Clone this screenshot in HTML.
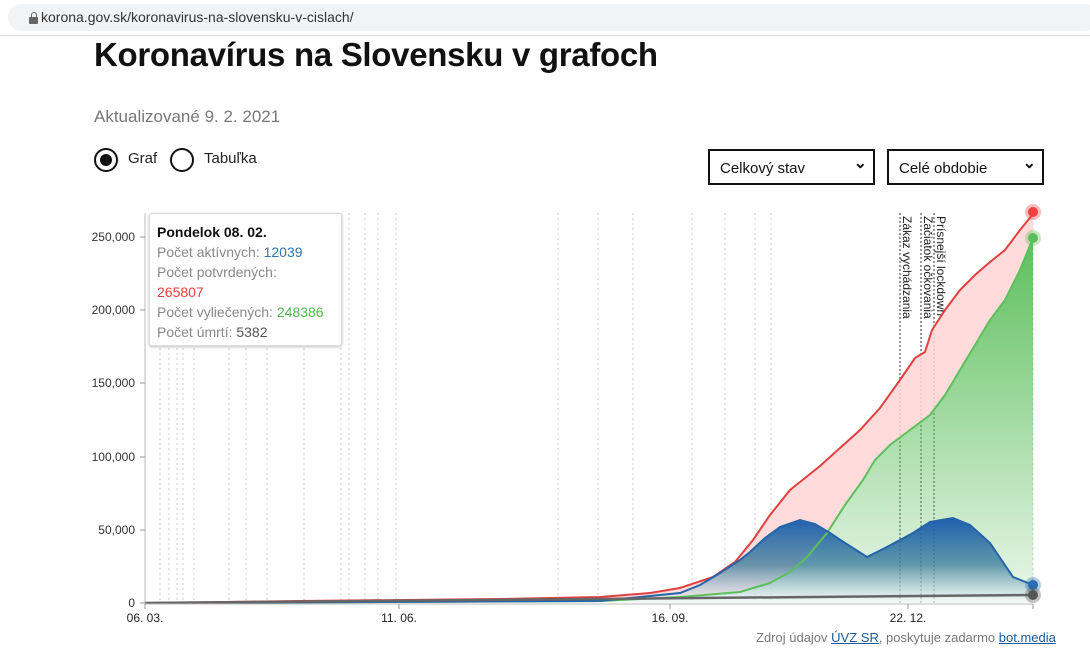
<!DOCTYPE html>
<html><head><meta charset="utf-8"><style>
body{margin:0;width:1090px;height:654px;background:#fff;font-family:"Liberation Sans",sans-serif;overflow:hidden;position:relative}
.bar{position:absolute;left:0;top:0;width:1090px;height:35px;background:#fff;border-bottom:1px solid #ddd}
.url{position:absolute;left:8px;top:4px;width:1090px;height:27px;background:#f1f3f4;border-radius:14px}
.url span{position:absolute;left:33px;top:5px;font-size:14px;color:#333}
.lock{position:absolute;left:21px;top:13px;width:9px;height:7px;background:#666;border-radius:1px}
.lock:before{content:"";position:absolute;left:1.5px;top:-5px;width:4px;height:5px;border:1.5px solid #666;border-bottom:none;border-radius:3px 3px 0 0}
h1{position:absolute;left:94px;top:36px;margin:0;font-size:33px;font-weight:bold;color:#111;letter-spacing:-0.3px}
.upd{position:absolute;left:94px;top:107px;font-size:17px;color:#777}
.radio{position:absolute;top:148px;width:20px;height:20px;border:2px solid #111;border-radius:50%}
.lbl{position:absolute;top:150px;font-size:15px;color:#222}
.sel{position:absolute;top:149px;height:36px;border:2px solid #111;font-size:15px;color:#111;box-sizing:border-box;padding:9px 10px}
.sel:after{content:"⌄";position:absolute;right:6px;top:2px;font-size:16px;font-weight:bold}
.tip{position:absolute;left:149px;top:213px;width:193px;height:133px;background:#fff;border:1px solid #ddd;border-radius:3px;box-shadow:0 1px 3px rgba(0,0,0,.25);font-size:14px;line-height:20px;color:#888;padding:8px 7px;box-sizing:border-box}
.src{position:absolute;left:756px;top:630px;font-size:13px;color:#777}
.src u{color:#1a5a9a}
</style></head><body>
<div class="bar"><div class="url"><div class="lock"></div><span>korona.gov.sk/koronavirus-na-slovensku-v-cislach/</span></div></div>
<h1>Koronavírus na Slovensku v grafoch</h1>
<div class="upd">Aktualizované 9. 2. 2021</div>
<div class="radio" style="left:94px"><div style="position:absolute;left:4px;top:4px;width:12px;height:12px;border-radius:50%;background:#111"></div></div>
<div class="lbl" style="left:128px">Graf</div>
<div class="radio" style="left:170px"></div>
<div class="lbl" style="left:204px">Tabuľka</div>
<div class="sel" style="left:708px;width:167px">Celkový stav</div>
<div class="sel" style="left:887px;width:157px">Celé obdobie</div>
<svg width="1090" height="654" style="position:absolute;left:0;top:0">
<defs>
<linearGradient id="gb" x1="0" y1="0" x2="0" y2="1"><stop offset="0" stop-color="#1f5fb0"/><stop offset="0.55" stop-color="#357a9a" stop-opacity=".75"/><stop offset="1" stop-color="#fff" stop-opacity=".6"/></linearGradient>
<linearGradient id="gg" x1="0" y1="0" x2="0" y2="1"><stop offset="0" stop-color="#5cbf5c"/><stop offset="1" stop-color="#5cbf5c" stop-opacity=".12"/></linearGradient>
</defs>
<g stroke="#ccc" stroke-dasharray="2,3" stroke-width="1">
<path d="M160 213V603M169 213V603M177 213V603M183 213V603M194 213V603M229 213V603M246 213V603M267 213V603M304 213V603M341 213V603M349 213V603M365 213V603M378 213V603M396 213V603M558 213V603M598 213V603M633 213V603M692 213V603M725 213V603M755 213V603M771 213V603M1033 213V603"/>
</g>
<g stroke="#555" stroke-dasharray="2,2" stroke-width="1.2"><path d="M900 213V603M921 213V603M934 213V603"/></g>
<g font-size="12" fill="#222" font-family="Liberation Sans">
<text transform="translate(903,216) rotate(90)">Zákaz vychádzania</text>
<text transform="translate(924,216) rotate(90)">Začiatok očkovania</text>
<text transform="translate(937,216) rotate(90)">Prísnejší lockdown</text>
</g>
<path d="M145 603L300 601L500 599L600 597L650 593L680 588L713 577L735 562L753 540L770 515L790 490L800 482L820 466L840 448L860 430L880 408L900 380L915 358L925 352L932 330L945 310L960 290L975 275L990 262L1005 250L1020 230L1033 214L1033 238L1020 270L1005 300L990 320L975 345L960 370L945 395L930 415L910 430L890 445L875 460L863 480L845 505L827 533L807 557L790 572L770 583L740 592L700 597L600 601L145 603Z" fill="#ffd5d5" opacity=".85"/>
<path d="M145 603L600 601L680 597L740 592L770 583L790 572L807 557L827 533L845 505L863 480L875 460L890 445L910 430L930 415L945 395L960 370L975 345L990 320L1005 300L1020 270L1033 238V603Z" fill="url(#gg)"/>
<path d="M145 603L600 601L680 593L700 585L720 573L740 560L750 552L765 538L780 527L800 520L815 524L830 533L845 543L867 557L885 548L900 540L913 533L930 522L953 518L970 525L990 543L1013 577L1033 585V603Z" fill="url(#gb)"/>
<path d="M145 603L300 601L500 599L600 597L650 593L680 588L713 577L735 562L753 540L770 515L790 490L800 482L820 466L840 448L860 430L880 408L900 380L915 358L925 352L932 330L945 310L960 290L975 275L990 262L1005 250L1020 230L1033 214" fill="none" stroke="#e04040" stroke-width="2"/>
<path d="M145 603L600 601L680 597L740 592L770 583L790 572L807 557L827 533L845 505L863 480L875 460L890 445L910 430L930 415L945 395L960 370L975 345L990 320L1005 300L1020 270L1033 238" fill="none" stroke="#5cbf5c" stroke-width="2"/>
<path d="M145 603L600 601L680 593L700 585L720 573L740 560L750 552L765 538L780 527L800 520L815 524L830 533L845 543L867 557L885 548L900 540L913 533L930 522L953 518L970 525L990 543L1013 577L1033 585" fill="none" stroke="#2464a8" stroke-width="2"/>
<path d="M145 603L1033 595" stroke="#666" stroke-width="2.5"/>
<circle cx="1033" cy="212" r="8" fill="#f04040" opacity=".35"/><circle cx="1033" cy="212" r="5" fill="#f04040"/>
<circle cx="1033" cy="238" r="8" fill="#5cbf5c" opacity=".35"/><circle cx="1033" cy="238" r="5" fill="#5cbf5c"/>
<circle cx="1033" cy="585" r="8" fill="#2a6db0" opacity=".35"/><circle cx="1033" cy="585" r="5" fill="#2a6db0"/>
<circle cx="1033" cy="595" r="8" fill="#555" opacity=".35"/><circle cx="1033" cy="595" r="5" fill="#555"/>
<path d="M145 213V604H1033" fill="none" stroke="#bbb"/>
<g stroke="#999"><path d="M140 237H145M140 310H145M140 383H145M140 457H145M140 530H145M140 603H145M145 604V609M399 604V609M670 604V609M908 604V609M1033 604V609"/></g>
<g font-size="12" fill="#333" text-anchor="end" font-family="Liberation Sans">
<text x="135" y="241">250,000</text><text x="135" y="314">200,000</text><text x="135" y="387">150,000</text><text x="135" y="461">100,000</text><text x="135" y="534">50,000</text><text x="135" y="607">0</text></g>
<g font-size="12" fill="#222" text-anchor="middle" font-family="Liberation Sans">
<text x="145" y="622">06. 03.</text><text x="399" y="622">11. 06.</text><text x="670" y="622">16. 09.</text><text x="908" y="622">22. 12.</text></g>
</svg>
<div class="tip"><b style="color:#111">Pondelok 08. 02.</b><br>Počet aktívnych: <span style="color:#2a75b0">12039</span><br>Počet potvrdených:<br><span style="color:#e04040">265807</span><br>Počet vyliečených: <span style="color:#4cb84c">248386</span><br>Počet úmrtí: <span style="color:#555">5382</span></div>
<div class="src">Zdroj údajov <u>ÚVZ SR</u>, poskytuje zadarmo <u>bot.media</u></div>
</body></html>
